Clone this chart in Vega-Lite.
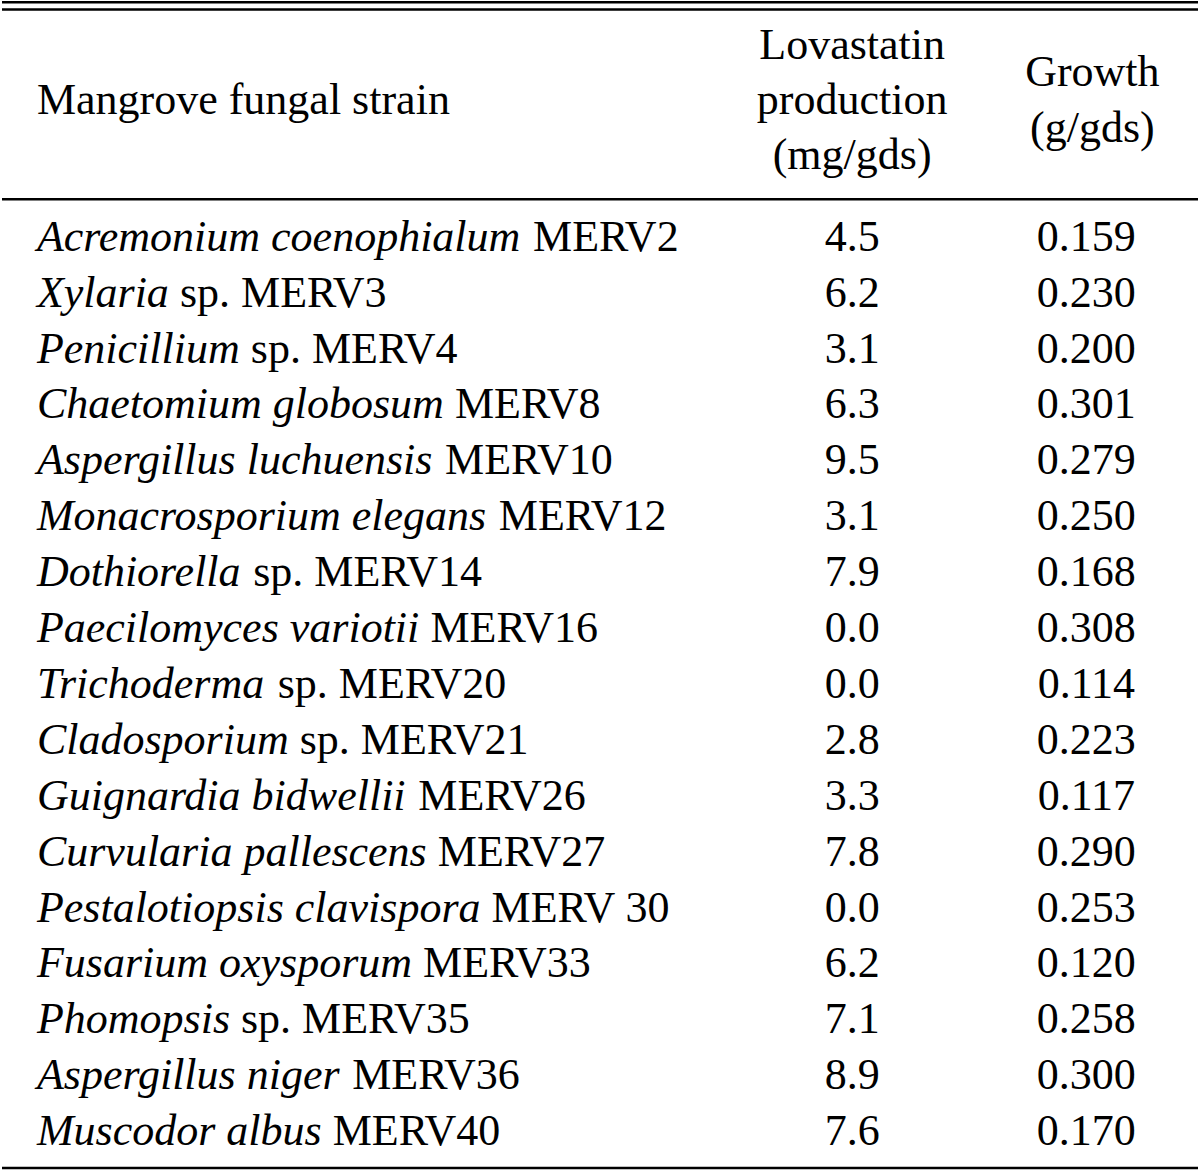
{
  "$schema": "https://vega.github.io/schema/vega-lite/v6.json",
  "width": 1200,
  "height": 1173,
  "autosize": {"type": "fit", "contains": "padding"},
  "padding": 0,
  "background": "white",
  "config": {
    "view": {"stroke": null},
    "text": {"font": "Liberation Serif", "fontSize": 44, "color": "black", "baseline": "middle"},
    "rule": {"color": "black"}
  },
  "data": {
    "values": [
      {"row": 1, "genus": "Acremonium coenophialum", "rest": "MERV2", "lov": 4.5, "growth": 0.159},
      {"row": 2, "genus": "Xylaria", "rest": "sp. MERV3", "lov": 6.2, "growth": 0.230},
      {"row": 3, "genus": "Penicillium", "rest": "sp. MERV4", "lov": 3.1, "growth": 0.200},
      {"row": 4, "genus": "Chaetomium globosum", "rest": "MERV8", "lov": 6.3, "growth": 0.301},
      {"row": 5, "genus": "Aspergillus luchuensis", "rest": "MERV10", "lov": 9.5, "growth": 0.279},
      {"row": 6, "genus": "Monacrosporium elegans", "rest": "MERV12", "lov": 3.1, "growth": 0.250},
      {"row": 7, "genus": "Dothiorella", "rest": "sp. MERV14", "lov": 7.9, "growth": 0.168},
      {"row": 8, "genus": "Paecilomyces variotii", "rest": "MERV16", "lov": 0.0, "growth": 0.308},
      {"row": 9, "genus": "Trichoderma", "rest": "sp. MERV20", "lov": 0.0, "growth": 0.114},
      {"row": 10, "genus": "Cladosporium", "rest": "sp. MERV21", "lov": 2.8, "growth": 0.223},
      {"row": 11, "genus": "Guignardia bidwellii", "rest": "MERV26", "lov": 3.3, "growth": 0.117},
      {"row": 12, "genus": "Curvularia pallescens", "rest": "MERV27", "lov": 7.8, "growth": 0.290},
      {"row": 13, "genus": "Pestalotiopsis clavispora", "rest": "MERV 30", "lov": 0.0, "growth": 0.253},
      {"row": 14, "genus": "Fusarium oxysporum", "rest": "MERV33", "lov": 6.2, "growth": 0.120},
      {"row": 15, "genus": "Phomopsis", "rest": "sp. MERV35", "lov": 7.1, "growth": 0.258},
      {"row": 16, "genus": "Aspergillus niger", "rest": "MERV36", "lov": 8.9, "growth": 0.300},
      {"row": 17, "genus": "Muscodor albus", "rest": "MERV40", "lov": 7.6, "growth": 0.170}
    ]
  },
  "resolve": {"scale": {"x": "shared", "y": "shared"}},
  "layer": [
    {
      "mark": {"type": "text", "align": "left", "fontStyle": "italic"},
      "encoding": {
        "x": {"datum": 35, "type": "quantitative", "axis": null, "scale": {"domain": [0, 1200], "nice": false, "zero": false}},
        "y": {"field": "row", "type": "quantitative", "axis": null,
              "scale": {"domain": [-3.237, 17.732], "reverse": true, "nice": false, "zero": false}},
        "text": {"field": "genus", "type": "nominal"}
      }
    },
    {
      "mark": {"type": "text", "align": "left",
               "dx": {"expr": "(0.5*length(datum.genus) - 0.25*length(replace(datum.genus,/[^ ]/g,'')) - 0.222*length(replace(datum.genus,/[^fijlt]/g,'')) - 0.111*length(replace(datum.genus,/[^rsz]/g,'')) - 0.056*length(replace(datum.genus,/[^cekvxy]/g,'')) + 0.111*length(replace(datum.genus,/[^AFPX]/g,'')) + 0.167*length(replace(datum.genus,/[^Cw]/g,'')) + 0.222*length(replace(datum.genus,/[^mDG]/g,'')) + 0.333*length(replace(datum.genus,/[^M]/g,'')) + 0.056*length(replace(datum.genus,/[^T]/g,'')) + 0.25) * 44"}},
      "encoding": {
        "x": {"datum": 35, "type": "quantitative"},
        "y": {"field": "row", "type": "quantitative"},
        "text": {"field": "rest", "type": "nominal"}
      }
    },
    {
      "mark": {"type": "text", "align": "center"},
      "encoding": {
        "x": {"datum": 853, "type": "quantitative"},
        "y": {"field": "row", "type": "quantitative"},
        "text": {"field": "lov", "type": "quantitative", "format": ".1f"}
      }
    },
    {
      "mark": {"type": "text", "align": "center"},
      "encoding": {
        "x": {"datum": 1088, "type": "quantitative"},
        "y": {"field": "row", "type": "quantitative"},
        "text": {"field": "growth", "type": "quantitative", "format": ".3f"}
      }
    },
    {
      "data": {"values": [{"cell": "strain header"}]},
      "mark": {"type": "text", "align": "left", "text": "Mangrove fungal strain"},
      "encoding": {
        "x": {"datum": 35, "type": "quantitative"},
        "y": {"datum": -1.449, "type": "quantitative"}
      }
    },
    {
      "data": {"values": [{"cell": "lovastatin header"}]},
      "mark": {"type": "text", "align": "center", "lineHeight": 55, "text": ["Lovastatin", "production", "(mg/gds)"]},
      "encoding": {
        "x": {"datum": 853, "type": "quantitative"},
        "y": {"datum": -2.433, "type": "quantitative"}
      }
    },
    {
      "data": {"values": [{"cell": "growth header"}]},
      "mark": {"type": "text", "align": "center", "lineHeight": 56, "text": ["Growth", "(g/gds)"]},
      "encoding": {
        "x": {"datum": 1094, "type": "quantitative"},
        "y": {"datum": -1.950, "type": "quantitative"}
      }
    },
    {
      "data": {"values": [{"rule": "top"}]},
      "mark": {"type": "rule", "strokeWidth": 2.5},
      "encoding": {
        "x": {"datum": 0, "type": "quantitative"},
        "x2": {"datum": 1200},
        "y": {"datum": -3.216, "type": "quantitative"}
      }
    },
    {
      "data": {"values": [{"rule": "top2"}]},
      "mark": {"type": "rule", "strokeWidth": 2.5},
      "encoding": {
        "x": {"datum": 0, "type": "quantitative"},
        "x2": {"datum": 1200},
        "y": {"datum": -3.085, "type": "quantitative"}
      }
    },
    {
      "data": {"values": [{"rule": "head"}]},
      "mark": {"type": "rule", "strokeWidth": 2.5},
      "encoding": {
        "x": {"datum": 0, "type": "quantitative"},
        "x2": {"datum": 1200},
        "y": {"datum": 0.311, "type": "quantitative"}
      }
    },
    {
      "data": {"values": [{"rule": "bottom"}]},
      "mark": {"type": "rule", "strokeWidth": 2.5},
      "encoding": {
        "x": {"datum": 0, "type": "quantitative"},
        "x2": {"datum": 1200},
        "y": {"datum": 17.642, "type": "quantitative"}
      }
    }
  ]
}
